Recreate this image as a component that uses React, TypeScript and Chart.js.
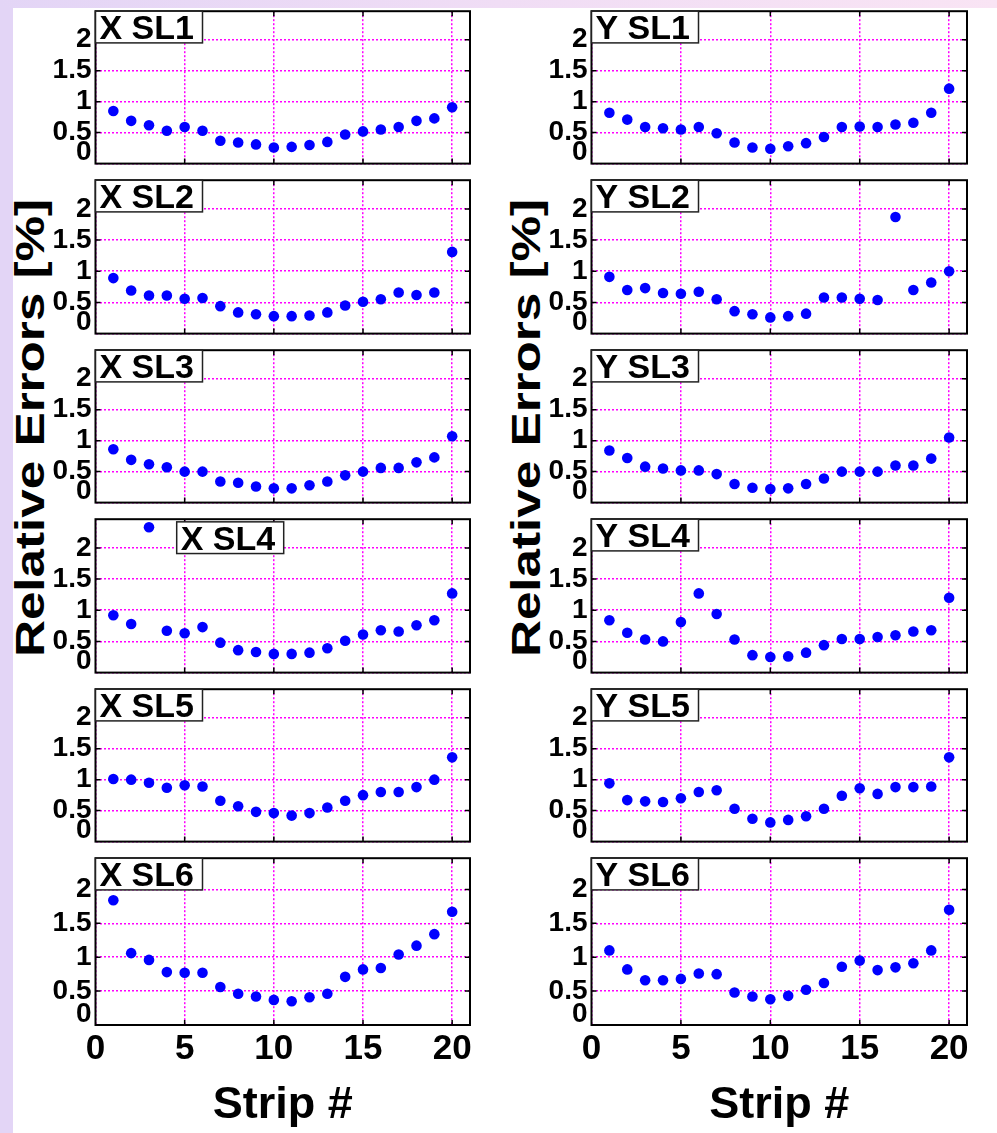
import React, { useEffect, useRef } from 'react';
import { Chart, registerables } from 'chart.js';

Chart.register(...registerables);

// ---------------- data ----------------
const STRIPS = [1, 2, 3, 4, 5, 6, 7, 8, 9, 10, 11, 12, 13, 14, 15, 16, 17, 18, 19, 20];

const X_SL1 = [0.85, 0.69, 0.62, 0.53, 0.59, 0.53, 0.37, 0.34, 0.31, 0.26, 0.27, 0.30, 0.35, 0.47, 0.52, 0.55, 0.59, 0.69, 0.73, 0.91];
const X_SL2 = [0.89, 0.69, 0.61, 0.61, 0.56, 0.57, 0.44, 0.34, 0.31, 0.28, 0.28, 0.29, 0.34, 0.45, 0.51, 0.55, 0.66, 0.62, 0.66, 1.31];
const X_SL3 = [0.86, 0.69, 0.62, 0.57, 0.50, 0.50, 0.34, 0.32, 0.26, 0.23, 0.23, 0.28, 0.34, 0.44, 0.50, 0.56, 0.56, 0.65, 0.73, 1.07];
const X_SL4 = [0.92, 0.78, 2.33, 0.67, 0.63, 0.73, 0.48, 0.36, 0.33, 0.30, 0.30, 0.32, 0.39, 0.51, 0.61, 0.68, 0.66, 0.76, 0.84, 1.27];
const X_SL5 = [1.01, 1.00, 0.95, 0.87, 0.91, 0.89, 0.66, 0.57, 0.48, 0.46, 0.42, 0.46, 0.55, 0.66, 0.75, 0.80, 0.80, 0.88, 1.00, 1.36];
const X_SL6 = [1.84, 1.06, 0.96, 0.78, 0.77, 0.77, 0.56, 0.46, 0.42, 0.37, 0.35, 0.41, 0.46, 0.71, 0.82, 0.84, 1.04, 1.17, 1.34, 1.67];

const Y_SL1 = [0.82, 0.71, 0.59, 0.57, 0.55, 0.59, 0.49, 0.34, 0.26, 0.24, 0.28, 0.33, 0.43, 0.59, 0.60, 0.59, 0.63, 0.66, 0.82, 1.21];
const Y_SL2 = [0.91, 0.70, 0.73, 0.65, 0.64, 0.67, 0.55, 0.36, 0.31, 0.26, 0.28, 0.32, 0.58, 0.58, 0.56, 0.54, 1.87, 0.70, 0.82, 1.00];
const Y_SL3 = [0.84, 0.72, 0.58, 0.55, 0.52, 0.52, 0.46, 0.30, 0.24, 0.22, 0.23, 0.30, 0.39, 0.50, 0.50, 0.50, 0.60, 0.60, 0.71, 1.05];
const Y_SL4 = [0.84, 0.64, 0.53, 0.50, 0.81, 1.27, 0.94, 0.53, 0.28, 0.25, 0.26, 0.32, 0.44, 0.54, 0.54, 0.57, 0.60, 0.66, 0.68, 1.20];
const Y_SL5 = [0.94, 0.67, 0.65, 0.64, 0.70, 0.80, 0.83, 0.53, 0.37, 0.31, 0.35, 0.41, 0.53, 0.74, 0.86, 0.77, 0.88, 0.88, 0.89, 1.36];
const Y_SL6 = [1.10, 0.82, 0.66, 0.66, 0.68, 0.76, 0.75, 0.48, 0.42, 0.38, 0.43, 0.52, 0.62, 0.86, 0.95, 0.81, 0.85, 0.91, 1.10, 1.70];

const X_LABELS = ['X SL1', 'X SL2', 'X SL3', 'X SL4', 'X SL5', 'X SL6'];
const Y_LABELS = ['Y SL1', 'Y SL2', 'Y SL3', 'Y SL4', 'Y SL5', 'Y SL6'];
const X_VALUES = [X_SL1, X_SL2, X_SL3, X_SL4, X_SL5, X_SL6];
const Y_VALUES = [Y_SL1, Y_SL2, Y_SL3, Y_SL4, Y_SL5, Y_SL6];

const X_TICKS = [0, 5, 10, 15, 20];
const Y_TICKS = [0, 0.5, 1, 1.5, 2];
const X_MIN = 0;
const X_MAX = 21;
const Y_MIN = 0;
const Y_MAX = 2.46;

const X_TITLE = 'Strip #';
const Y_TITLE = 'Relative Errors [%]';

// ---------------- layout / style ----------------
const PAGE_W = 997;
const PAGE_H = 1133;
const FONT = '"Liberation Sans", Arial, Helvetica, sans-serif';
const FRAME_LEFT = [95.5, 591.5];
const FRAME_RIGHT = [470, 967];
const PANEL_TOP = 8.3;
const PANEL_H = 169.45;
const AXIS_W = 80;
const PAD = 12;
const BOX_W = 107;
const BOX_H = 31.7;
const GRID = '#ff00ff';
const DOT = [2, 2];
// label box offsets (only X SL4 is moved)
const BOX_SHIFT: Record<string, [number, number]> = { 'X SL4': [81.2, 2.65] };

const framePlugin = {
  id: 'panelFrame',
  afterDatasetsDraw(chart: any, _args: any, opts: any) {
    const { ctx, chartArea: a, scales } = chart;
    ctx.save();
    // inward tick marks
    ctx.strokeStyle = '#000';
    ctx.lineWidth = 1.5;
    ctx.beginPath();
    for (const v of X_TICKS) {
      if (v === X_MIN) continue;
      const px = scales.x.getPixelForValue(v);
      ctx.moveTo(px, a.top);
      ctx.lineTo(px, a.top + 5);
      ctx.moveTo(px, a.bottom);
      ctx.lineTo(px, a.bottom - 5);
    }
    for (const v of Y_TICKS) {
      if (v === Y_MIN) continue;
      const py = scales.y.getPixelForValue(v);
      ctx.moveTo(a.left, py);
      ctx.lineTo(a.left + 5, py);
      ctx.moveTo(a.right, py);
      ctx.lineTo(a.right - 5, py);
    }
    ctx.stroke();
    // frame
    ctx.lineWidth = 2;
    ctx.strokeRect(a.left, a.top, a.right - a.left, a.bottom - a.top);
    // label box
    const bx = a.left + (opts.dx || 0);
    const by = a.top + (opts.dy || 0);
    ctx.fillStyle = '#fff';
    ctx.fillRect(bx, by, BOX_W, BOX_H);
    ctx.strokeStyle = '#222';
    ctx.lineWidth = 1.5;
    ctx.strokeRect(bx, by, BOX_W, BOX_H);
    ctx.fillStyle = '#000';
    ctx.font = `bold 34px ${FONT}`;
    ctx.textBaseline = 'alphabetic';
    ctx.textAlign = 'left';
    ctx.fillText(opts.label, bx + 4, by + 27.7);
    ctx.restore();
  },
};

function Panel({ col, row, label, values }: { col: number; row: number; label: string; values: number[] }) {
  const ref = useRef<HTMLCanvasElement>(null);
  const top = PANEL_TOP + row * PANEL_H;
  const bottom = top + PANEL_H;
  const isBottom = row === 5;
  const frameL = FRAME_LEFT[col];
  const frameR = FRAME_RIGHT[col];
  const cLeft = Math.floor(frameL - AXIS_W);
  const cTop = Math.floor(top) - PAD;
  const cW = Math.ceil(frameR) + PAD - cLeft;
  const cH = isBottom ? PAGE_H - cTop : Math.ceil(bottom) + PAD - cTop;
  const yAxisW = frameL - cLeft;
  const padTop = top - cTop;
  const padRight = cW - (frameR - cLeft);
  const xAxisH = isBottom ? PAGE_H - bottom : 0;
  const padBottom = isBottom ? 0 : cH - (bottom - cTop);
  const shift = BOX_SHIFT[label] || [0, 0];

  useEffect(() => {
    const gridOpts: any = { color: GRID, lineWidth: 1.5, drawTicks: false, borderDash: DOT };
    const borderOpts: any = { display: false, dash: DOT, dashOffset: 0 };
    const chart = new Chart(ref.current as HTMLCanvasElement, {
      type: 'scatter',
      data: {
        datasets: [
          {
            label,
            data: STRIPS.map((s, i) => ({ x: s, y: values[i] })),
            pointRadius: 5.3,
            pointHoverRadius: 5.3,
            pointBackgroundColor: '#0000ff',
            pointBorderWidth: 0,
            showLine: false,
            clip: false,
          } as any,
        ],
      },
      options: {
        responsive: false,
        animation: false,
        events: [],
        layout: { padding: { left: 0, top: padTop, right: padRight, bottom: padBottom } },
        plugins: {
          legend: { display: false },
          tooltip: { enabled: false },
          panelFrame: { label, dx: shift[0], dy: shift[1] },
        } as any,
        scales: {
          x: {
            type: 'linear',
            min: X_MIN,
            max: X_MAX,
            afterBuildTicks: (s: any) => {
              s.ticks = X_TICKS.map((v) => ({ value: v }));
            },
            afterFit: (s: any) => {
              s.height = xAxisH;
            },
            grid: gridOpts,
            border: borderOpts,
            ticks: {
              display: isBottom,
              autoSkip: false,
              maxRotation: 0,
              padding: 3,
              color: '#000',
              font: { family: FONT, size: 35, weight: 'bold', lineHeight: 1.2 },
            },
            title: {
              display: isBottom,
              text: X_TITLE,
              color: '#000',
              padding: 0,
              font: { family: FONT, size: 45, weight: 'bold', lineHeight: 1.2 },
            },
          },
          y: {
            type: 'linear',
            min: Y_MIN,
            max: Y_MAX,
            afterBuildTicks: (s: any) => {
              s.ticks = Y_TICKS.map((v) => ({ value: v }));
            },
            afterFit: (s: any) => {
              s.width = yAxisW;
            },
            grid: gridOpts,
            border: borderOpts,
            ticks: {
              autoSkip: false,
              padding: 4,
              color: '#000',
              font: { family: FONT, size: 28, weight: 'bold', lineHeight: 0.8 },
              callback: (v: any) => (Number(v) === 0 ? ['0', ''] : String(v)),
            },
          },
        },
      },
      plugins: [framePlugin as any],
    });
    return () => chart.destroy();
  }, []);

  return (
    <canvas
      ref={ref}
      width={cW}
      height={cH}
      style={{ position: 'absolute', left: cLeft, top: cTop, width: cW, height: cH }}
    />
  );
}

function YTitle({ cx, cy }: { cx: number; cy: number }) {
  const w = 500;
  const h = 50;
  return (
    <div
      style={{
        position: 'absolute',
        left: cx - w / 2,
        top: cy - h / 2,
        width: w,
        height: h,
        lineHeight: `${h}px`,
        textAlign: 'center',
        fontFamily: FONT,
        fontWeight: 'bold',
        fontSize: 40,
        color: '#000',
        whiteSpace: 'nowrap',
        transform: 'rotate(-90deg) scaleX(1.28)',
        transformOrigin: '50% 50%',
      }}
    >
      {Y_TITLE}
    </div>
  );
}

export default function App() {
  return (
    <div
      style={{
        position: 'fixed',
        left: 0,
        top: 0,
        width: PAGE_W,
        height: PAGE_H,
        background: '#ffffff',
        overflow: 'hidden',
      }}
    >
      <div style={{ position: 'absolute', left: 0, top: 0, width: 13, height: PAGE_H, background: '#e3d5f6' }} />
      <div
        style={{
          position: 'absolute',
          left: 0,
          top: 0,
          width: PAGE_W,
          height: 8,
          background: 'linear-gradient(to right, #e3d5f6, #f0ddf5 50%, #f9e4f4)',
        }}
      />
      <YTitle cx={29.5} cy={428} />
      <YTitle cx={525.5} cy={428} />
      {X_LABELS.map((lab, r) => (
        <Panel key={lab} col={0} row={r} label={lab} values={X_VALUES[r]} />
      ))}
      {Y_LABELS.map((lab, r) => (
        <Panel key={lab} col={1} row={r} label={lab} values={Y_VALUES[r]} />
      ))}
    </div>
  );
}
